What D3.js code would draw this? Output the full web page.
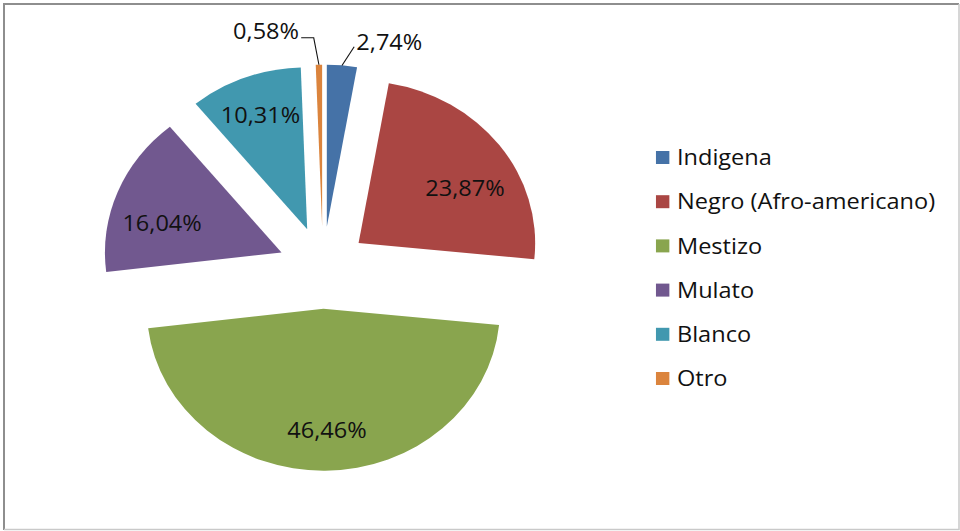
<!DOCTYPE html>
<html>
<head>
<meta charset="utf-8">
<script src="https://cdn.jsdelivr.net/npm/d3@7"></script>
<style>
  html, body { margin: 0; padding: 0; background: #fff; }
  svg { display: block; }
  text { font-family: "Open Sans", "Noto Sans", sans-serif; fill: #111; }
</style>
</head>
<body>
<script>
// Population by ethnic group, share of total (%)
const categories = ["Indigena", "Negro (Afro-americano)", "Mestizo", "Mulato", "Blanco", "Otro"];
const shares = [2.74, 23.87, 46.46, 16.04, 10.31, 0.58];
const colors = ["#4572A7", "#AA4643", "#89A54E", "#71588F", "#4198AF", "#DB843D"];

const W = 960, H = 531;
const stretchX = 1.09;          // chart is drawn slightly wider than tall
const cx = 296.3, cy = 267.7;   // pie centre (before horizontal stretch)
const R = 162, explode = 41;
const fontSize = 21.6;

// Spanish number format: decimal comma
const es = d3.formatLocale({ decimal: ",", thousands: ".", grouping: [3], currency: ["", ""] });
const pct = v => es.format(".2f")(v) + "%";

const svg = d3.select("body").append("svg")
  .attr("width", W).attr("height", H);

svg.append("rect").attr("width", W).attr("height", H).attr("fill", "#fff");

// Frame
svg.append("path")
  .attr("d", "M4,530 V4 H959")
  .attr("fill", "none").attr("stroke", "#8e8e8e").attr("stroke-width", 2);
svg.append("path")
  .attr("d", "M959,4 V529.5 H4")
  .attr("fill", "none").attr("stroke", "#c9c9c9").attr("stroke-width", 1.5);

const root = svg.append("g").attr("transform", `scale(${stretchX},1)`);

const data = categories.map((name, i) => ({ name, value: shares[i], color: colors[i] }));
const pie = d3.pie().sort(null).value(d => d.value);
const arcs = pie(data);
const arc = d3.arc().innerRadius(0).outerRadius(R);

const mid = a => (a.startAngle + a.endAngle) / 2;
const polar = (ang, r) => [Math.sin(ang) * r, -Math.cos(ang) * r];
const apex = a => {
  const [ex, ey] = polar(mid(a), explode);
  return [cx + ex, cy + ey];
};

// Slices, each pulled out from the centre along its bisector
root.append("g").selectAll("path")
  .data(arcs)
  .join("path")
  .attr("transform", d => `translate(${apex(d)})`)
  .attr("d", arc)
  .attr("fill", d => d.data.color);

// Label placement: inside labels sit along the bisector, small slices get an outside label with a leader
const deg = Math.PI / 180;
const insideTweak = {
  "Negro (Afro-americano)": { da: 8, r: 0.69 },
  "Mestizo": { da: -1, r: 0.75 },
  "Mulato": { da: -7, r: 0.70 },
  "Blanco": { da: 0, r: 0.75 }
};
const outsideTweak = {
  "Indigena": { da: 3, r: 1.123 },
  "Otro": { da: -1.3, r: 1.167 }
};

const labels = root.append("g");
arcs.forEach(a => {
  const [ax, ay] = apex(a);
  const name = a.data.name;
  if (insideTweak[name]) {
    const t = insideTweak[name];
    const [lx, ly] = polar(mid(a) + t.da * deg, R * t.r);
    labels.append("text")
      .attr("x", ax + lx).attr("y", ay + ly)
      .attr("dy", "0.36em")
      .attr("text-anchor", "middle")
      .attr("font-size", fontSize)
      .text(pct(a.data.value));
  } else {
    const t = outsideTweak[name];
    const [ox, oy] = polar(mid(a), R);
    const [qx, qy] = polar(mid(a) + t.da * deg, R * t.r);
    const start = [ax + ox, ay + oy];
    const bend = [ax + qx, ay + qy];
    const leftSide = mid(a) > Math.PI;
    const pts = leftSide ? [start, bend, [bend[0] - 11.5, bend[1]]] : [start, bend];
    labels.append("path")
      .attr("d", d3.line()(pts))
      .attr("fill", "none").attr("stroke", "#111").attr("stroke-width", 1);
    labels.append("text")
      .attr("x", leftSide ? bend[0] - 13.5 : bend[0] + 2)
      .attr("y", leftSide ? bend[1] - 6.7 : bend[1] - 4.7)
      .attr("dy", "0.36em")
      .attr("text-anchor", leftSide ? "end" : "start")
      .attr("font-size", fontSize)
      .text(pct(a.data.value));
  }
});

// Legend
const legendX = 601.8, legendY = 157.5, legendStep = 44.2;
const legend = root.append("g");
const rows = legend.selectAll("g")
  .data(data)
  .join("g")
  .attr("transform", (d, i) => `translate(${legendX},${legendY + i * legendStep})`);
rows.append("rect")
  .attr("x", 0).attr("y", -6.5)
  .attr("width", 12.3).attr("height", 13)
  .attr("fill", d => d.color);
rows.append("text")
  .attr("x", 19.3).attr("y", 0)
  .attr("dy", "0.36em")
  .attr("font-size", fontSize)
  .text(d => d.name);
</script>
</body>
</html>
